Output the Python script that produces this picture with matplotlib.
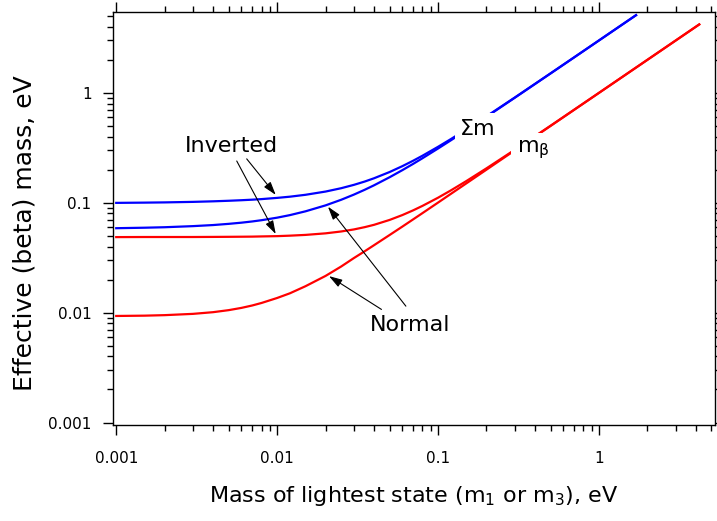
import matplotlib
matplotlib.use('Agg')
import matplotlib.pyplot as plt
from matplotlib.ticker import FixedLocator, LogLocator, NullFormatter, FuncFormatter

# lightest mass (eV) and the effective masses
mass_sum = [0.001, 0.0015, 0.002, 0.003, 0.004, 0.005, 0.006, 0.007, 0.008, 0.01,
            0.012, 0.015, 0.02, 0.025, 0.03, 0.035, 0.04, 0.05, 0.06, 0.07,
            0.08, 0.1, 0.12, 0.15, 0.2, 0.3, 0.5, 0.7, 1.0, 1.7]
sum_inverted = [0.0998, 0.1003, 0.1008, 0.1019, 0.1031, 0.1043, 0.1055, 0.1067, 0.1080, 0.1108,
                0.1136, 0.1182, 0.1265, 0.1357, 0.1456, 0.1560, 0.1671, 0.1905, 0.2154, 0.2413,
                0.2680, 0.3231, 0.3795, 0.4658, 0.612, 0.9081, 1.505, 2.103, 3.002, 5.10]
sum_normal = [0.0587, 0.0593, 0.0599, 0.0613, 0.0627, 0.0643, 0.0659, 0.0676, 0.0694, 0.0732,
              0.0772, 0.0836, 0.0947, 0.1065, 0.1187, 0.1313, 0.1442, 0.1708, 0.1981, 0.2259,
              0.2543, 0.3118, 0.3699, 0.458, 0.6061, 0.9041, 1.5025, 2.1018, 3.001, 5.10]

mass_beta = [0.001, 0.0015, 0.002, 0.003, 0.004, 0.005, 0.006, 0.007, 0.008, 0.01,
             0.012, 0.015, 0.02, 0.025, 0.03, 0.035, 0.04, 0.05, 0.06, 0.07,
             0.08, 0.1, 0.12, 0.15, 0.2, 0.3, 0.5, 1.0, 2.0, 4.2]
beta_inverted = [0.0487, 0.0488, 0.0488, 0.0488, 0.0489, 0.0490, 0.0491, 0.0492, 0.0494, 0.0497,
                 0.0502, 0.0510, 0.0527, 0.0548, 0.0572, 0.0600, 0.0630, 0.0698, 0.0773, 0.0853,
                 0.0937, 0.1112, 0.1295, 0.1577, 0.2059, 0.3039, 0.5024, 1.0012, 2.0006, 4.2]
beta_normal = [0.00933, 0.00939, 0.00949, 0.00975, 0.0101, 0.01054, 0.01105, 0.01162, 0.01225, 0.0136,
               0.0150, 0.0174, 0.0216, 0.0263, 0.0314, 0.0362, 0.0411, 0.0509, 0.0607, 0.0706,
               0.0805, 0.1004, 0.1204, 0.1503, 0.2002, 0.3001, 0.5, 1.0, 2.0, 4.2]

decades = [0.001, 0.01, 0.1, 1]

plt.rcParams['font.family'] = 'DejaVu Sans'
plt.rcParams['mathtext.fontset'] = 'dejavusans'

fig = plt.figure(figsize=(7.17, 5.21), dpi=100)
ax = fig.add_axes([0.1576, 0.1843, 0.8396, 0.7927])

ax.plot(mass_sum, sum_inverted, color='#0000ff', lw=1.6, zorder=2)
ax.plot(mass_sum, sum_normal, color='#0000ff', lw=1.6, zorder=2)
ax.plot(mass_beta, beta_inverted, color='#ff0000', lw=1.6, zorder=2)
ax.plot(mass_beta, beta_normal, color='#ff0000', lw=1.6, zorder=2)

ax.set_xscale('log')
ax.set_yscale('log')
ax.set_xlim(0.000955, 5.26)
ax.set_ylim(0.00095, 5.45)

for axis in (ax.xaxis, ax.yaxis):
    axis.set_major_locator(FixedLocator(decades))
    axis.set_minor_locator(LogLocator(base=10, subs=range(2, 10)))
    axis.set_major_formatter(FuncFormatter(lambda v, p: '%g' % v))
    axis.set_minor_formatter(NullFormatter())

ax.tick_params(which='both', direction='out', top=True, right=True, width=1.0)
ax.tick_params(which='major', length=7.5, labelsize=11)
ax.tick_params(which='minor', length=4)
ax.tick_params(axis='x', which='major', pad=11)
ax.tick_params(axis='y', which='major', pad=8)
for sp in ax.spines.values():
    sp.set_linewidth(1.0)

ax.set_xlabel('Mass of lightest state (m$_1$ or m$_3$), eV', fontsize=16, labelpad=13)
ax.set_ylabel('Effective (beta) mass, eV', fontsize=18, labelpad=8)
ax.yaxis.label.set_y(0.465)

# curve labels with white boxes that break the lines
ax.text(0.1768, 0.471, 'Σm', fontsize=16, ha='center', va='center', zorder=3,
        bbox=dict(facecolor='white', edgecolor='none', pad=4))
ax.text(0.389, 0.303, 'm$_{\\mathrm{\\beta}}$', fontsize=16, ha='center', va='center', zorder=3,
        bbox=dict(facecolor='white', edgecolor='none', pad=4))

ax.text(0.00522, 0.33, 'Inverted', fontsize=16, ha='center', va='center')
ax.text(0.0668, 0.00769, 'Normal', fontsize=16, ha='center', va='center')

arrow = dict(arrowstyle='-|>,head_length=0.8,head_width=0.25', color='black', lw=0.8,
             shrinkA=0, shrinkB=0)
ax.annotate('', xy=(0.0098, 0.118), xytext=(0.00647, 0.251), arrowprops=arrow)
ax.annotate('', xy=(0.0098, 0.052), xytext=(0.00561, 0.240), arrowprops=arrow)
ax.annotate('', xy=(0.0207, 0.0921), xytext=(0.0631, 0.01146), arrowprops=arrow)
ax.annotate('', xy=(0.0210, 0.0215), xytext=(0.0445, 0.0107), arrowprops=arrow)

fig.savefig('out.png', dpi=100)
